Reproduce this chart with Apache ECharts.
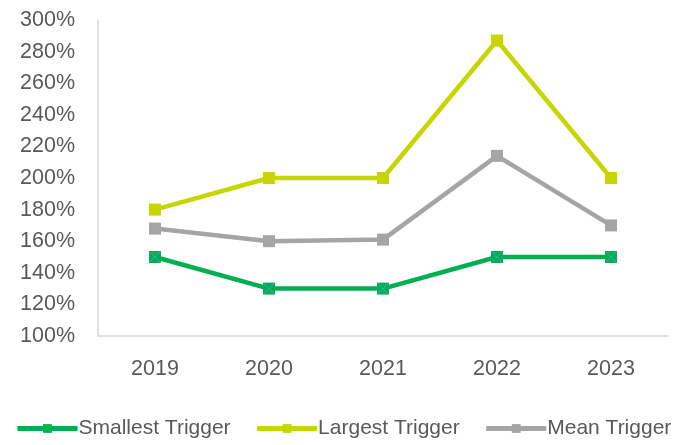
<!DOCTYPE html>
<html>
<head>
<meta charset="utf-8">
<script src="https://cdn.jsdelivr.net/npm/echarts@6/dist/echarts.min.js"></script>
<style>
  html, body { margin: 0; padding: 0; background: #fff; }
  #chart { width: 687px; height: 445px; }
</style>
</head>
<body>
<div id="chart"></div>
<script>
// Trigger levels by year, in percent
const years = ['2019', '2020', '2021', '2022', '2023'];
const smallestTrigger = [150, 130, 130, 150, 150];
const largestTrigger = [180, 200, 200, 287, 200];
const meanTrigger = [168, 160, 161, 214, 170];
const yTicks = { min: 100, max: 300, step: 20 };

const FONT = '"Liberation Sans", Arial, sans-serif';
const TEXT = '#595959';
const FS = 21.5;

// thin diagonal cross drawn on top of the green square markers
const crossPath = 'path://M0,1 L1,0 L10,9 L19,0 L20,1 L11,10 L20,19 L19,20 L10,11 L1,20 L0,19 L9,10 Z';

const chart = echarts.init(document.getElementById('chart'), null, { renderer: 'canvas' });
chart.setOption({
  animation: false,
  grid: { left: 98, right: 19, top: 20, bottom: 109 },
  legend: {
    top: 418,
    left: 15,
    width: 672,
    padding: 0,
    itemWidth: 60,
    itemHeight: 11,
    itemGap: 24,
    lineStyle: { width: 5 },
    textStyle: { fontFamily: FONT, fontSize: 21, color: TEXT, padding: [0, 0, 0, -4] },
    data: ['Smallest Trigger', 'Largest Trigger', 'Mean Trigger']
  },
  xAxis: {
    type: 'category',
    data: years,
    boundaryGap: true,
    axisLine: { lineStyle: { color: '#D9D9D9', width: 1.5 } },
    axisTick: { show: false },
    axisLabel: { fontFamily: FONT, fontSize: FS, color: TEXT, margin: 22 }
  },
  yAxis: {
    type: 'value',
    min: yTicks.min,
    max: yTicks.max,
    interval: yTicks.step,
    axisLine: { show: true, lineStyle: { color: '#D9D9D9', width: 1.5 } },
    axisTick: { show: false },
    splitLine: { show: false },
    axisLabel: { fontFamily: FONT, fontSize: FS, color: TEXT, margin: 23, formatter: '{value}%' }
  },
  series: [
    {
      name: 'Smallest Trigger',
      type: 'line',
      data: smallestTrigger,
      color: '#00B050',
      lineStyle: { width: 4.5, color: '#00B050' },
      symbol: 'rect',
      symbolSize: 12,
      showAllSymbol: true,
      itemStyle: { color: '#00B050' },
      z: 3
    },
    {
      name: 'Smallest Trigger marks',
      type: 'scatter',
      data: smallestTrigger,
      symbol: crossPath,
      symbolSize: 11,
      itemStyle: { color: '#5B9BD5' },
      z: 4,
      silent: true
    },
    {
      name: 'Largest Trigger',
      type: 'line',
      data: largestTrigger,
      color: '#C5D600',
      lineStyle: { width: 4.5, color: '#C5D600' },
      symbol: 'rect',
      symbolSize: 12,
      itemStyle: { color: '#C5D600' },
      z: 3
    },
    {
      name: 'Mean Trigger',
      type: 'line',
      data: meanTrigger,
      color: '#A5A5A5',
      lineStyle: { width: 4.5, color: '#A5A5A5' },
      symbol: 'rect',
      symbolSize: 12,
      itemStyle: { color: '#A5A5A5' },
      z: 3
    }
  ]
});
</script>
</body>
</html>
